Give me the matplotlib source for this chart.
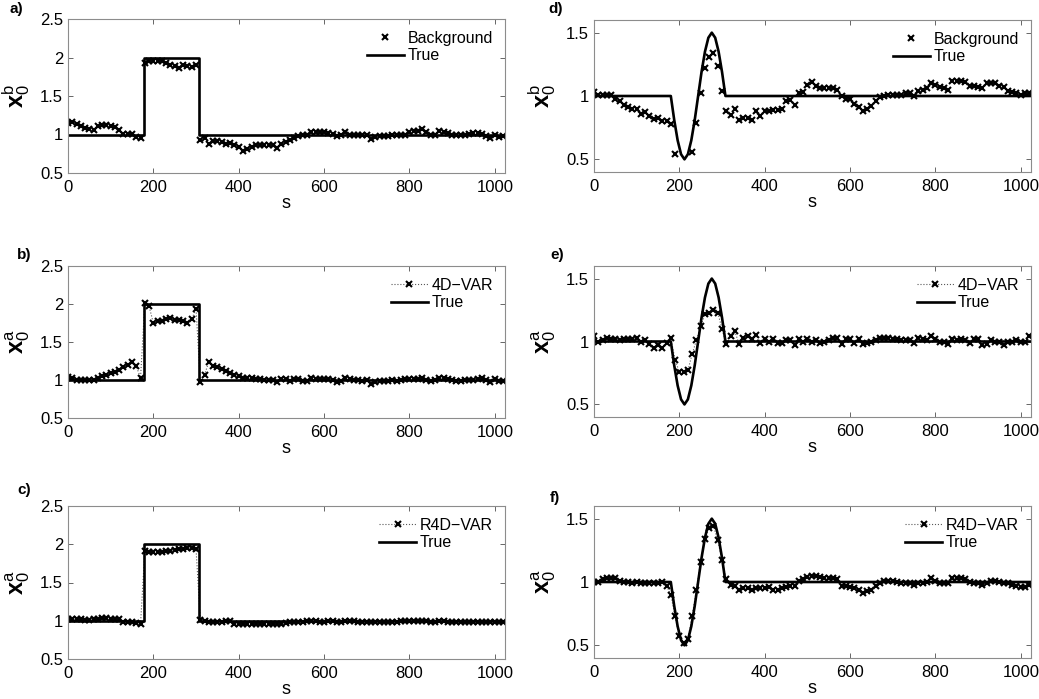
import numpy as np
import matplotlib
matplotlib.use("Agg")
import matplotlib.pyplot as plt

plt.rcParams['font.family'] = ['Liberation Sans', 'DejaVu Sans']
plt.rcParams['mathtext.fontset'] = 'custom'
plt.rcParams['mathtext.rm'] = 'Liberation Sans'
plt.rcParams['mathtext.bf'] = 'Liberation Sans:bold'
plt.rcParams['mathtext.it'] = 'Liberation Sans:italic'

nan = np.nan

# marker positions (every 10th grid point)
s = np.arange(0, 1021, 10)

# true initial states
true_step_s = [0, 178, 178, 306, 306, 1024]
true_step_v = [1, 1, 2, 2, 1, 1]
true_sine_s = [0, 180, 188, 196, 204, 212, 220, 228, 236, 244, 252, 260,
               268, 276, 284, 292, 300, 308, 1024]
true_sine_v = [1.0, 1.0, 0.81, 0.65, 0.54, 0.5, 0.54, 0.65, 0.81, 1.0, 1.19,
               1.35, 1.46, 1.5, 1.46, 1.35, 1.19, 1.0, 1.0]

# a) background, step case
bg_step = [1.15, 1.16, 1.13, 1.11, 1.09, 1.07, 1.06, 1.11, 1.12, 1.12,
           1.11, 1.10, 1.06, 1.01, 1.01, 1.01, 0.97, 0.96, 1.93, 1.95,
           1.95, 1.96, 1.95, 1.93, 1.90, 1.89, 1.87, 1.90, 1.89, 1.88,
           1.90, 0.93, 0.96, 0.88, 0.91, 0.91, 0.90, 0.88, 0.89, 0.86,
           0.84, 0.78, 0.81, 0.84, 0.86, 0.87, 0.87, 0.87, 0.86, 0.83,
           0.88, 0.90, 0.93, 0.96, 0.98, 0.99, 1.00, 1.03, 1.03, 1.03,
           1.03, 1.02, 1.01, 0.98, 0.99, 1.03, 0.99, 1.00, 1.00, 0.99,
           1.00, 0.94, 0.97, 0.98, 0.98, 0.98, 0.99, 0.99, 1.00, 1.00,
           1.03, 1.04, 1.05, 1.07, 1.03, 1.00, 0.99, 1.05, 1.03, 1.02,
           1.00, 0.99, 0.99, 1.00, 1.01, 1.02, 1.02, 1.01, 0.98, 0.96,
           1.00, 0.97, 0.98]

# b) 4D-VAR, step case
var4d_step = [1.04, 1.03, 1.00, 1.00, 1.00, 1.00, 1.00, 1.03, 1.05, 1.07,
              1.09, 1.11, 1.13, 1.17, 1.20, 1.24, 1.18, 1.03, 2.01, 1.97,
              1.75, 1.77, 1.78, 1.80, 1.81, 1.79, 1.79, 1.78, 1.75, 1.80,
              1.94, 0.98, 1.07, 1.24, 1.19, 1.17, 1.14, 1.12, 1.09, 1.07,
              1.05, 1.03, 1.02, 1.02, 1.01, 1.01, 1.00, 1.00, 1.00, 0.97,
              1.01, 1.01, 0.99, 1.01, 1.01, 0.99, 0.99, 1.02, 1.01, 1.01,
              1.01, 1.01, 1.00, 0.98, 0.99, 1.03, 1.01, 1.00, 1.00, 0.99,
              1.00, 0.95, 0.98, 0.99, 0.99, 0.99, 1.00, 0.99, 1.00, 1.01,
              1.01, 1.01, 1.01, 1.02, 1.00, 0.99, 1.00, 1.03, 1.02, 1.01,
              1.00, 0.99, 0.99, 1.00, 1.00, 1.00, 1.01, 1.02, 1.00, 0.97,
              1.01, 0.99, 0.99]

# c) R4D-VAR, step case
r4d_step = [1.02, 1.02, 1.02, 1.02, 1.01, 1.01, 1.02, 1.02, 1.03, 1.03,
            1.02, 1.02, 1.02, 0.98, 0.98, 0.98, 0.97, 0.96, 1.91, 1.90,
            1.90, 1.90, 1.90, 1.91, 1.91, 1.92, 1.94, 1.94, 1.95, 1.95,
            1.94, 1.01, 1.00, 0.99, 0.99, 0.99, 0.99, 1.00, 1.00, 0.96,
            0.96, 0.96, 0.96, 0.96, 0.96, 0.96, 0.96, 0.96, 0.96, 0.96,
            0.96, 0.97, 0.99, 0.99, 0.99, 0.99, 1.00, 1.00, 1.00, 0.99,
            0.99, 1.00, 1.00, 0.99, 0.99, 1.00, 1.00, 1.00, 0.99, 0.99,
            0.99, 0.98, 0.98, 0.99, 0.99, 0.99, 0.99, 0.99, 1.00, 1.00,
            1.00, 1.00, 1.00, 1.00, 1.00, 0.99, 0.99, 1.00, 1.00, 0.99,
            0.99, 0.99, 0.99, 0.99, 0.98, 0.99, 0.99, 0.99, 0.99, 0.99,
            0.99, 0.99, 0.99]

# d) background, sine case
bg_sine = [1.03, 1.01, 1.01, 1.01, 1.01, 0.98, 0.96, 0.93, 0.91, 0.90,
           0.90, 0.86, 0.87, 0.84, 0.82, 0.83, 0.80, 0.80, 0.78, 0.54,
           nan, nan, nan, 0.56, 0.79, 1.02, 1.22, 1.31, 1.34, 1.24,
           1.04, 0.88, 0.85, 0.90, 0.81, 0.83, 0.83, 0.81, 0.88, 0.84,
           0.88, 0.88, 0.89, 0.89, 0.90, 0.96, 0.97, 0.93, 1.02, 1.03,
           1.09, 1.11, 1.08, 1.06, 1.06, 1.06, 1.06, 1.05, 1.00, 0.98,
           0.98, 0.94, 0.91, 0.88, 0.90, 0.92, 0.96, 0.99, 1.00, 1.01,
           1.01, 1.01, 1.01, 1.02, 1.02, 1.00, 1.04, 1.05, 1.06, 1.10,
           1.09, 1.07, 1.06, 1.05, 1.12, 1.12, 1.12, 1.11, 1.08, 1.08,
           1.07, 1.06, 1.10, 1.10, 1.10, 1.08, 1.07, 1.04, 1.03, 1.02,
           1.01, 1.02, 1.02]

# e) 4D-VAR, sine case
var4d_sine = [1.04, 1.00, 1.01, 1.03, 1.02, 1.02, 1.01, 1.02, 1.02, 1.02,
              1.03, 1.00, 1.01, 0.98, 0.95, 0.97, 0.95, 0.99, 1.03, 0.85,
              0.76, 0.76, 0.77, 0.90, 1.01, 1.12, 1.22, 1.23, 1.25, 1.23,
              1.10, 0.98, 1.04, 1.08, 0.98, 1.03, 1.04, 1.02, 1.05, 0.99,
              1.02, 1.00, 1.02, 0.99, 0.99, 1.01, 1.01, 0.97, 1.02, 1.00,
              1.02, 1.00, 1.01, 0.99, 1.00, 1.01, 1.03, 1.03, 0.98, 1.02,
              1.02, 0.99, 1.02, 0.98, 0.99, 1.00, 1.01, 1.03, 1.03, 1.03,
              1.02, 1.02, 1.01, 1.01, 1.01, 0.99, 1.03, 1.02, 1.01, 1.04,
              1.02, 1.00, 1.00, 0.98, 1.02, 1.01, 1.02, 1.01, 0.99, 1.02,
              1.02, 0.97, 0.98, 1.01, 1.00, 1.00, 0.97, 1.00, 1.00, 1.01,
              1.00, 1.00, 1.04]

# f) R4D-VAR, sine case
r4d_sine = [1.00, 1.00, 1.02, 1.03, 1.03, 1.03, 1.01, 1.00, 1.00, 0.99,
            1.00, 0.99, 0.99, 0.99, 0.99, 0.99, 1.00, 0.97, 0.90, 0.73,
            0.57, 0.52, 0.55, 0.73, 0.94, 1.16, 1.34, 1.43, 1.44, 1.33,
            1.17, 1.02, 0.98, 0.97, 0.94, 0.95, 0.95, 0.94, 0.95, 0.95,
            0.95, 0.96, 0.94, 0.94, 0.95, 0.96, 0.97, 0.97, 1.01, 1.02,
            1.04, 1.05, 1.05, 1.04, 1.03, 1.03, 1.03, 1.02, 0.97, 0.97,
            0.96, 0.95, 0.94, 0.91, 0.93, 0.94, 0.97, 0.99, 1.01, 1.01,
            1.01, 1.00, 0.99, 0.99, 0.99, 0.98, 0.99, 0.99, 1.00, 1.03,
            1.01, 0.99, 0.99, 0.99, 1.03, 1.03, 1.03, 1.02, 1.00, 0.99,
            0.99, 0.98, 0.99, 1.01, 1.01, 1.00, 0.99, 0.99, 0.98, 0.97,
            0.96, 0.96, 0.98]

W, H = 1039, 699
fig = plt.figure(figsize=(W / 100, H / 100), dpi=100)

def box(l, t, r, b):
    return [l / W, 1 - b / H, (r - l) / W, (b - t) / H]

panels = [
    # label, rect, est, est label, ylabel, true s, true v, step?, letter pos
    ('a)', box(68, 19, 505, 173), bg_step, 'Background', 'b', true_step_s, true_step_v, True, (10, 9)),
    ('b)', box(68, 266, 505, 418), var4d_step, '4D\u2212VAR', 'a', true_step_s, true_step_v, True, (17, 255)),
    ('c)', box(68, 506, 505, 659), r4d_step, 'R4D\u2212VAR', 'a', true_step_s, true_step_v, True, (17, 490)),
    ('d)', box(594, 20, 1031, 172), bg_sine, 'Background', 'b', true_sine_s, true_sine_v, False, (548, 9)),
    ('e)', box(594, 266, 1031, 417), var4d_sine, '4D\u2212VAR', 'a', true_sine_s, true_sine_v, False, (550, 255)),
    ('f)', box(594, 506, 1031, 658), r4d_sine, 'R4D\u2212VAR', 'a', true_sine_s, true_sine_v, False, (550, 498)),
]

for letter, rect, est, est_label, sup, ts, tv, step, lpos in panels:
    ax = fig.add_axes(rect)
    if est_label == 'Background':
        ax.plot(s, est, linestyle='none', marker='x', color='k', ms=5, mew=1.5,
                label=est_label)
    else:
        ax.plot(s, est, linestyle=':', lw=0.8, color='0.35', marker='x', mec='k',
                ms=5, mew=1.5, label=est_label)
    ax.plot(ts, tv, color='k', lw=1.9, label='True')

    ax.set_xlim(0, 1024)
    ax.set_xticks([0, 200, 400, 600, 800, 1000])
    if step:
        ax.set_ylim(0.5, 2.5)
        ax.set_yticks([0.5, 1, 1.5, 2, 2.5])
        ax.set_yticklabels(['0.5', '1', '1.5', '2', '2.5'])
    else:
        ax.set_ylim(0.4, 1.6)
        ax.set_yticks([0.5, 1, 1.5])
        ax.set_yticklabels(['0.5', '1', '1.5'])

    ax.tick_params(direction='in', top=True, right=True, length=3.5, width=0.6,
                   labelsize=12, color='0.3')
    ax.tick_params(axis='x', pad=5)
    ax.tick_params(axis='y', pad=3.5)
    for sp in ax.spines.values():
        sp.set_color('0.55')
        sp.set_linewidth(0.8)

    ax.set_xlabel('s', fontsize=13, labelpad=0)
    ax.set_ylabel(r'$\mathbf{x}_\mathrm{0}^\mathrm{%s}$' % sup, fontsize=17)
    ax.yaxis.set_label_coords(-0.083, 0.5)

    ax.legend(loc='upper right', frameon=False, fontsize=11.5,
              handlelength=2.3, handletextpad=0.25, labelspacing=0.15,
              borderaxespad=0.35)

    fig.text(lpos[0] / W, 1 - lpos[1] / H, letter, fontsize=11, fontweight='bold',
             ha='left', va='center')

fig.savefig('out.png', dpi=100)
